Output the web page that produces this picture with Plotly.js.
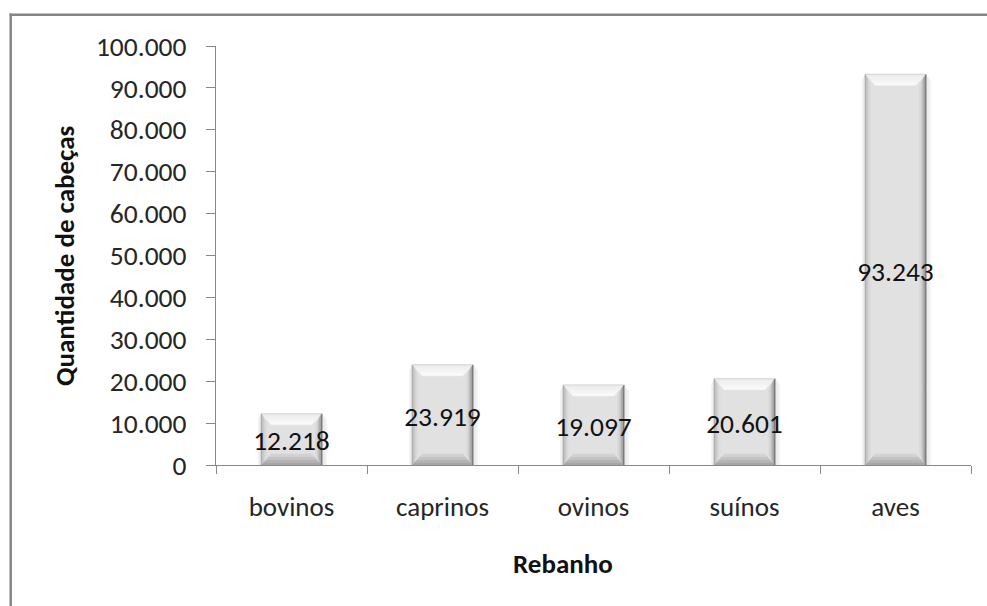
<!DOCTYPE html>
<html>
<head>
<meta charset="utf-8">
<script src="https://cdn.plot.ly/plotly-3.0.1.min.js"></script>
<style>
  html, body { margin: 0; padding: 0; background: #ffffff; }
  #chart { width: 987px; height: 606px; }
</style>
</head>
<body>
<div id="chart"></div>
<script>
// Efetivo dos rebanhos (número de cabeças)
const categories = ['bovinos', 'caprinos', 'ovinos', 'suínos', 'aves'];
const cabecas = [12218, 23919, 19097, 20601, 93243];
const yTickVals = [0, 10000, 20000, 30000, 40000, 50000, 60000, 70000, 80000, 90000, 100000];
const xTitle = 'Rebanho';
const yTitle = 'Quantidade de cabeças';

const FONT = 'Carlito, "Open Sans", sans-serif';
const Y_MAX = 100000;

// plot area geometry (px)
const M = { l: 216, r: 16, t: 46, b: 141 };
const W = 987, H = 606;
const plotW = W - M.l - M.r;            // 755
const plotH = H - M.t - M.b;            // 419
const pxPerCat = plotW / categories.length;
const pxPerUnit = plotH / Y_MAX;

const pos = categories.map((c, i) => i);
const BAR_W = 0.4;
const SIDE_X = 6 / pxPerCat;     // width of the side bevels
const CAP_Y = 11 / pxPerUnit;    // height of the top / bottom bevels
const CAP_X = 10 / pxPerCat;     // horizontal run of the corner diagonals
const RINGS = 4;
const LABEL_DROP = 4 / pxPerUnit; // optical centring of the digits

function mix(a, b, t) {
  const pa = [1, 3, 5].map(k => parseInt(a.substr(k, 2), 16));
  const pb = [1, 3, 5].map(k => parseInt(b.substr(k, 2), 16));
  const c = pa.map((v, k) => Math.round(v + (pb[k] - v) * t));
  return 'rgb(' + c.join(',') + ')';
}

// one filled trace holding a polygon per bar
function polyTrace(pointsFor, color) {
  const xs = [], ys = [];
  cabecas.forEach((v, i) => {
    const pts = pointsFor(i - BAR_W / 2, i + BAR_W / 2, v);
    pts.forEach(p => { xs.push(p[0]); ys.push(p[1]); });
    xs.push(pts[0][0]); ys.push(pts[0][1]);
    xs.push(null); ys.push(null);
  });
  return {
    type: 'scatter', mode: 'lines', x: xs, y: ys,
    fill: 'toself', fillcolor: color,
    line: { color: color, width: 0.5 },
    hoverinfo: 'skip', showlegend: false
  };
}

function lineTrace(pointsFor, color, width) {
  const xs = [], ys = [];
  cabecas.forEach((v, i) => {
    const pts = pointsFor(i - BAR_W / 2, i + BAR_W / 2, v);
    pts.forEach(p => { xs.push(p[0]); ys.push(p[1]); });
    xs.push(null); ys.push(null);
  });
  return {
    type: 'scatter', mode: 'lines', x: xs, y: ys,
    line: { color: color, width: width },
    hoverinfo: 'skip', showlegend: false
  };
}

const traces = [];

// soft shadow around each bar
[[5, '#f3f3f3'], [3, '#ebebeb']].forEach(([px, col]) => {
  const sx = px / pxPerCat;
  traces.push(polyTrace((x0, x1, v) => [[x1, 0], [x1 + sx, 0], [x1 + sx, v - CAP_Y * 0.5], [x1, v]], col));
  traces.push(polyTrace((x0, x1, v) => [[x0, 0], [x0 - sx * 0.6, 0], [x0 - sx * 0.6, v - CAP_Y * 0.5], [x0, v]], col));
});

// bar faces
traces.push({
  type: 'bar', x: pos, y: cabecas, width: BAR_W,
  marker: { color: '#e1e1e1', line: { width: 0 } },
  hoverinfo: 'x+y', showlegend: false
});

// bevelled frame, drawn as concentric rings from the outer edge inwards
const ringColors = {
  top:    ['#ededed', '#f9f9f9'],
  bottom: ['#a6a6a6', '#d2d2d2'],
  left:   ['#bdbdbd', '#dedede'],
  right:  ['#999999', '#d8d8d8']
};
function inset(x0, x1, v, f) {
  const cy = Math.min(CAP_Y, v / 3);
  return {
    l: x0 + SIDE_X * f, r: x1 - SIDE_X * f,
    cl: x0 + CAP_X * f, cr: x1 - CAP_X * f,
    bo: cy * f, to: v - cy * f
  };
}
for (let k = 0; k < RINGS; k++) {
  const t = k / (RINGS - 1);
  const a = k / RINGS, b = (k + 1) / RINGS;
  traces.push(polyTrace((x0, x1, v) => {
    const o = inset(x0, x1, v, a), n = inset(x0, x1, v, b);
    return [[o.cl, o.to], [o.cr, o.to], [n.cr, n.to], [n.cl, n.to]];
  }, mix(ringColors.top[0], ringColors.top[1], t)));
  traces.push(polyTrace((x0, x1, v) => {
    const o = inset(x0, x1, v, a), n = inset(x0, x1, v, b);
    return [[o.cl, o.bo], [o.cr, o.bo], [n.cr, n.bo], [n.cl, n.bo]];
  }, mix(ringColors.bottom[0], ringColors.bottom[1], t)));
}
for (let k = 0; k < RINGS; k++) {
  const t = k / (RINGS - 1);
  const a = k / RINGS, b = (k + 1) / RINGS;
  traces.push(polyTrace((x0, x1, v) => {
    const o = inset(x0, x1, v, a), n = inset(x0, x1, v, b);
    return [[o.l, o.bo], [o.l, o.to], [n.l, n.to], [n.l, n.bo]];
  }, mix(ringColors.left[0], ringColors.left[1], t)));
  traces.push(polyTrace((x0, x1, v) => {
    const o = inset(x0, x1, v, a), n = inset(x0, x1, v, b);
    return [[o.r, o.bo], [o.r, o.to], [n.r, n.to], [n.r, n.bo]];
  }, mix(ringColors.right[0], ringColors.right[1], t)));
}

// crisp outer edges
traces.push(lineTrace((x0, x1, v) => [[x0, 0], [x0, v]], '#a8a8a8', 1));
traces.push(lineTrace((x0, x1, v) => [[x1, 0], [x1, v]], '#7c7c7c', 1.5));
traces.push(lineTrace((x0, x1, v) => [[x0, v], [x1, v]], '#d4d4d4', 1));

// value labels centred on each bar
traces.push({
  type: 'scatter', mode: 'text',
  x: pos, y: cabecas.map(v => v / 2 - LABEL_DROP),
  customdata: cabecas,
  texttemplate: '%{customdata:,d}',
  textposition: 'middle center',
  textfont: { family: FONT, size: 27.5, color: '#111111' },
  hoverinfo: 'skip', showlegend: false
});

const boundaries = categories.map((c, i) => i - 0.5).concat([categories.length - 0.5]);

const layout = {
  width: W, height: H,
  margin: { l: M.l, r: M.r, t: M.t, b: M.b, pad: 0 },
  paper_bgcolor: '#ffffff', plot_bgcolor: '#ffffff',
  separators: ',.',
  showlegend: false,
  font: { family: FONT, color: '#262626' },
  xaxis: {
    type: 'linear', range: [-0.5, categories.length - 0.5], fixedrange: true,
    tickmode: 'array', tickvals: pos, ticktext: categories,
    ticks: '', ticklabelstandoff: 18,
    tickfont: { family: FONT, size: 27, color: '#262626' },
    minor: { tickmode: 'array', tickvals: boundaries, ticks: 'outside', ticklen: 8, tickwidth: 1, tickcolor: '#888888', showgrid: false },
    showline: true, linecolor: '#888888', linewidth: 1,
    showgrid: false, zeroline: false
  },
  yaxis: {
    range: [0, Y_MAX], fixedrange: true,
    tickmode: 'array', tickvals: yTickVals, tickformat: ',d',
    ticks: 'outside', ticklen: 9, tickwidth: 1, tickcolor: '#888888',
    ticklabelstandoff: 14,
    tickfont: { family: FONT, size: 27.5, color: '#262626' },
    showline: true, linecolor: '#888888', linewidth: 1,
    showgrid: false, zeroline: false
  },
  annotations: [
    {
      text: '<b>' + yTitle + '</b>', textangle: -90, showarrow: false,
      xref: 'paper', yref: 'paper',
      x: (64 - M.l) / plotW, y: (M.t + plotH - 256) / plotH, xanchor: 'center', yanchor: 'middle',
      font: { family: FONT, size: 27, color: '#111111' }
    },
    {
      text: '<b>' + xTitle + '</b>', showarrow: false,
      xref: 'paper', yref: 'paper',
      x: (563 - M.l) / plotW, y: (M.t + plotH - 563) / plotH,
      xanchor: 'center', yanchor: 'middle',
      font: { family: FONT, size: 27, color: '#111111' }
    }
  ],
  shapes: [
    // chart frame (left and top edges)
    {
      type: 'line', xref: 'paper', yref: 'paper', layer: 'above',
      x0: (10.7 - M.l) / plotW, x1: (10.7 - M.l) / plotW,
      y0: (M.t + plotH - 13.5) / plotH, y1: (M.t + plotH - 620) / plotH,
      line: { color: '#858585', width: 2.5 }
    },
    {
      type: 'line', xref: 'paper', yref: 'paper', layer: 'above',
      x0: (9.5 - M.l) / plotW, x1: (1000 - M.l) / plotW,
      y0: (M.t + plotH - 14.7) / plotH, y1: (M.t + plotH - 14.7) / plotH,
      line: { color: '#858585', width: 2.5 }
    }
  ]
};

Plotly.newPlot('chart', traces, layout, { displayModeBar: false, staticPlot: true });
</script>
</body>
</html>
